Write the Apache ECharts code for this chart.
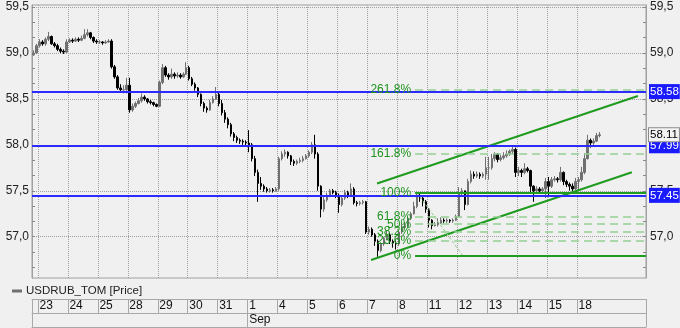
<!DOCTYPE html>
<html>
<head>
<meta charset="utf-8">
<script src="https://cdn.jsdelivr.net/npm/echarts@6/dist/echarts.min.js"></script>
<style>
html,body{margin:0;padding:0;background:#f0f0f0;}
#chart{width:680px;height:328px;}
</style>
</head>
<body>
<div id="chart"></div>
<script>
// ---- data ----
const seriesName = 'USDRUB_TOM [Price]';
const days = ['23','24','25','28','29','30','31','1','4','5','6','7','8','11','12','13','14','15','18'];
const monthLabel = 'Sep';
const monthStartDay = '1';
const leadBars = 2;        // bars before the first labelled day
const barsPerDay = 10;
const trailingSlots = 13;  // empty space on the right
const firstOpen = 58.98;
const closes = [
  59.00, 59.08,
  59.12, 59.10, 59.15, 59.18, 59.10, 59.08, 59.04, 59.02, 59.01, 59.12, // 23
  59.14, 59.13, 59.15, 59.14, 59.16, 59.20, 59.22, 59.17, 59.13, 59.12, // 24
  59.12, 59.11, 59.12, 59.13, 58.85, 58.74, 58.62, 58.60, 58.60, 58.65, // 25
  58.38, 58.42, 58.45, 58.48, 58.52, 58.50, 58.47, 58.46, 58.44, 58.42, // 28
  58.68, 58.84, 58.76, 58.74, 58.77, 58.75, 58.76, 58.74, 58.77, 58.84, // 29
  58.72, 58.66, 58.62, 58.55, 58.45, 58.40, 58.38, 58.46, 58.50, 58.55, // 30
  58.45, 58.35, 58.28, 58.22, 58.12, 58.08, 58.05, 58.04, 58.03, 58.02, // 31
  58.00, 57.85, 57.70, 57.58, 57.55, 57.52, 57.50, 57.51, 57.50, 57.52, // 1
  57.85, 57.90, 57.92, 57.88, 57.82, 57.80, 57.82, 57.83, 57.85, 57.88, // 4
  57.92, 58.00, 57.90, 57.55, 57.30, 57.40, 57.45, 57.50, 57.48, 57.45, // 5
  57.35, 57.42, 57.48, 57.45, 57.52, 57.37, 57.36, 57.37, 57.38, 57.05, // 6
  57.08, 57.02, 56.95, 56.85, 56.92, 56.98, 57.02, 56.95, 56.93, 56.92, // 7
  57.05, 57.10, 57.12, 57.20, 57.25, 57.33, 57.45, 57.42, 57.38, 57.30, // 8
  57.18, 57.12, 57.13, 57.15, 57.18, 57.17, 57.18, 57.17, 57.18, 57.22, // 11
  57.48, 57.50, 57.35, 57.60, 57.68, 57.66, 57.68, 57.66, 57.68, 57.75, // 12
  57.75, 57.85, 57.90, 57.84, 57.86, 57.88, 57.90, 57.93, 57.95, 57.70, // 13
  57.72, 57.70, 57.74, 57.72, 57.55, 57.50, 57.52, 57.50, 57.52, 57.60, // 14
  57.55, 57.62, 57.63, 57.62, 57.70, 57.60, 57.57, 57.55, 57.52, 57.60, // 15
  57.62, 57.70, 57.85, 58.05, 58.02, 58.04, 58.10, 58.11              // 18
];
const highs = [
  59.03, 59.10,
  59.15, 59.14, 59.17, 59.23, 59.19, 59.12, 59.10, 59.06, 59.04, 59.15,
  59.16, 59.16, 59.17, 59.17, 59.19, 59.26, 59.26, 59.23, 59.18, 59.15,
  59.14, 59.13, 59.14, 59.15, 59.15, 58.87, 58.76, 58.66, 58.65, 58.73,
  58.73, 58.45, 58.47, 58.51, 58.56, 58.54, 58.51, 58.49, 58.47, 58.45,
  58.70, 58.88, 58.86, 58.78, 58.83, 58.79, 58.79, 58.78, 58.79, 58.90,
  58.86, 58.74, 58.68, 58.63, 58.56, 58.47, 58.42, 58.49, 58.53, 58.63,
  58.58, 58.49, 58.38, 58.30, 58.24, 58.14, 58.10, 58.07, 58.06, 58.05,
  58.16, 58.02, 57.88, 57.73, 57.65, 57.57, 57.54, 57.53, 57.53, 57.54,
  57.87, 57.93, 57.95, 57.93, 57.89, 57.84, 57.84, 57.86, 57.88, 57.90,
  57.94, 58.03, 58.11, 57.92, 57.56, 57.43, 57.48, 57.52, 57.52, 57.50,
  57.47, 57.45, 57.51, 57.50, 57.58, 57.54, 57.39, 57.39, 57.40, 57.39,
  57.11, 57.10, 57.04, 56.97, 56.94, 57.00, 57.07, 57.04, 56.97, 56.96,
  57.07, 57.15, 57.16, 57.22, 57.27, 57.38, 57.49, 57.47, 57.44, 57.40,
  57.31, 57.19, 57.16, 57.20, 57.21, 57.20, 57.20, 57.19, 57.20, 57.24,
  57.54, 57.53, 57.50, 57.63, 57.72, 57.71, 57.71, 57.70, 57.70, 57.87,
  57.87, 57.90, 57.92, 57.91, 57.89, 57.92, 57.94, 57.95, 57.98, 57.97,
  57.76, 57.74, 57.80, 57.76, 57.73, 57.56, 57.55, 57.54, 57.54, 57.64,
  57.65, 57.65, 57.66, 57.65, 57.76, 57.71, 57.62, 57.59, 57.58, 57.64,
  57.65, 57.76, 57.91, 58.11, 58.07, 58.07, 58.13, 58.14
];
const lows = [
  58.97, 58.99,
  59.06, 59.08, 59.08, 59.13, 59.09, 59.06, 59.02, 59.00, 58.99, 59.00,
  59.11, 59.11, 59.12, 59.12, 59.13, 59.15, 59.18, 59.15, 59.11, 59.10,
  59.10, 59.09, 59.10, 59.11, 58.83, 58.72, 58.60, 58.57, 58.56, 58.56,
  58.35, 58.36, 58.40, 58.44, 58.46, 58.48, 58.45, 58.44, 58.42, 58.41,
  58.41, 58.66, 58.74, 58.71, 58.72, 58.72, 58.73, 58.72, 58.73, 58.76,
  58.70, 58.64, 58.59, 58.52, 58.42, 58.36, 58.35, 58.37, 58.45, 58.49,
  58.42, 58.32, 58.24, 58.18, 58.09, 58.04, 58.02, 58.01, 58.00, 57.99,
  57.92, 57.82, 57.66, 57.38, 57.51, 57.49, 57.48, 57.48, 57.48, 57.49,
  57.50, 57.83, 57.87, 57.85, 57.78, 57.77, 57.78, 57.80, 57.81, 57.84,
  57.86, 57.90, 57.85, 57.50, 57.21, 57.27, 57.38, 57.43, 57.46, 57.42,
  57.26, 57.33, 57.40, 57.42, 57.43, 57.35, 57.33, 57.34, 57.35, 57.03,
  57.02, 57.00, 56.90, 56.78, 56.83, 56.90, 56.96, 56.92, 56.88, 56.86,
  56.90, 57.03, 57.08, 57.11, 57.18, 57.24, 57.31, 57.38, 57.33, 57.26,
  57.10, 57.08, 57.11, 57.11, 57.14, 57.15, 57.15, 57.15, 57.15, 57.17,
  57.21, 57.44, 57.29, 57.34, 57.58, 57.63, 57.64, 57.63, 57.64, 57.62,
  57.62, 57.73, 57.82, 57.81, 57.82, 57.84, 57.86, 57.88, 57.90, 57.65,
  57.66, 57.65, 57.68, 57.70, 57.48, 57.38, 57.48, 57.48, 57.48, 57.42,
  57.43, 57.53, 57.60, 57.59, 57.60, 57.56, 57.54, 57.50, 57.49, 57.51,
  57.51, 57.60, 57.68, 57.84, 57.97, 58.00, 58.03, 58.08
];
const levelLines = [58.58, 57.99, 57.45];
const lastPrice = 58.11;
const fibLow = 56.79, fibHigh = 57.481;
const fibLevels = [0, 23.6, 38.2, 50, 61.8, 100, 161.8, 261.8];
const fibStartX = 127.9, fibEndX = 205;             // in bar slots
const fibAnchor = [[128.5, 57.481], [143.9, 56.79]];
const channelUpper = [[115.2, 57.579], [202.3, 58.532]];
const channelLower = [[113.2, 56.746], [200.3, 57.701]];
const yTickLabels = [57.0, 57.5, 58.0, 58.5, 59.0, 59.5];
const yMin = 56.55, yMax = 59.523;

// ---- build ----
const N = leadBars + days.length * barsPerDay + trailingSlots;
const cats = [];
for (let i = 0; i < N; i++) cats.push('b' + i);
const dayAt = {};
days.forEach((d, k) => { dayAt[leadBars + k * barsPerDay] = d; });
const monthIdx = leadBars + days.indexOf(monthStartDay) * barsPerDay;
const candles = closes.map((c, i) => [i === 0 ? firstOpen : closes[i - 1], c, lows[i], highs[i]]);
const minorTicks = [];
for (let k = 0; k <= 24; k++) { const v = 56.5 + k / 6; if (v >= yMin && v <= yMax) minorTicks.push(+v.toFixed(4)); }
const FONT = 'Liberation Sans, Arial, sans-serif';
const gridGrey = '#a0a0a0';
const tableGrey = '#a8a8a8';
const fmtY = v => v.toFixed(1).replace('.', ',');

const fibMarks = fibLevels.map(l => {
  const v = fibLow + (l / 100) * (fibHigh - fibLow);
  const solid = (l === 0 || l === 100);
  return [
    { coord: [fibStartX, v],
      lineStyle: solid ? { color: '#1f9b1f', width: 2, type: 'solid' } : { color: '#93cf93', width: 1.5, type: [8, 5] },
      label: { show: true, position: 'start', formatter: l + '%', color: '#1f931f', fontSize: 12, fontFamily: FONT, distance: 4 } },
    { coord: [fibEndX, v] }
  ];
});

const yAxisBase = (pos, showLabel, margin) => ({
  type: 'value', position: pos, min: yMin, max: yMax, scale: true,
  axisLine: { show: true, lineStyle: { color: gridGrey } },
  axisTick: { show: true, inside: true, length: 3, customValues: minorTicks, lineStyle: { color: '#888' } },
  axisLabel: { show: showLabel, customValues: yTickLabels, formatter: fmtY, color: '#222', fontSize: 12, fontFamily: FONT, margin: margin },
  splitLine: { show: false }
});

const labelAxis = (offset, intervalFn, formatterFn) => ({
  type: 'category', data: cats, position: 'bottom', offset: offset, boundaryGap: true,
  axisLine: { show: true, lineStyle: { color: tableGrey } },
  axisTick: { show: true, length: 14, interval: intervalFn, lineStyle: { color: tableGrey } },
  axisLabel: { show: true, interval: intervalFn, formatter: formatterFn, align: 'left', margin: 1, color: '#111', fontSize: 12, fontFamily: FONT },
  splitLine: { show: false }
});

const tagLabel = (v, bg, fg, extra) => Object.assign({
  show: true, position: 'end', formatter: v.toFixed(2), backgroundColor: bg, color: fg,
  padding: [2, 1, 1, 1], fontSize: 11.5, fontFamily: FONT, distance: 3
}, extra || {});

const option = {
  animation: false,
  backgroundColor: '#f0f0f0',
  textStyle: { fontFamily: FONT },
  grid: { left: 32, right: 34, top: 5, bottom: 50, show: true, borderColor: gridGrey, borderWidth: 1, backgroundColor: '#f0f0f0' },
  legend: {
    left: 12, top: 285, itemWidth: 8, itemHeight: 1, padding: 0,
    textStyle: { fontSize: 11.5, color: '#222', fontFamily: FONT },
    data: [{ name: seriesName, icon: 'rect', itemStyle: { color: '#333' } }]
  },
  xAxis: [
    { type: 'category', data: cats, boundaryGap: true, position: 'bottom',
      axisLine: { show: false }, axisTick: { show: false }, axisLabel: { show: false },
      splitLine: { show: true, interval: (i) => dayAt[i] !== undefined, lineStyle: { color: gridGrey, type: 'dotted' } } },
    labelAxis(21, (i) => i === 0 || dayAt[i] !== undefined, (v, i) => dayAt[i] || ''),
    labelAxis(35, (i) => i === 0 || i === monthIdx, (v, i) => i === monthIdx ? monthLabel : ''),
    { type: 'category', data: cats, position: 'bottom', offset: 49,
      axisLine: { show: true, lineStyle: { color: tableGrey } }, axisTick: { show: false }, axisLabel: { show: false } },
    { type: 'value', min: 0, max: N, show: false }
  ],
  yAxis: [
    yAxisBase('left', true, 3),
    yAxisBase('right', true, 4),
    { type: 'value', position: 'left', min: yMin, max: yMax,
      axisLine: { show: false }, axisTick: { show: false, customValues: yTickLabels },
      axisLabel: { show: false, customValues: yTickLabels },
      splitLine: { show: true, lineStyle: { color: gridGrey, type: 'dotted' } } }
  ],
  series: [
    {
      name: seriesName, type: 'candlestick', xAxisIndex: 0, yAxisIndex: 0,
      data: candles, barWidth: 2,
      itemStyle: { color: '#707070', color0: '#000000', borderColor: '#707070', borderColor0: '#000000', borderWidth: 1 },
      markLine: {
        silent: true, symbol: ['none', 'none'], animation: false,
        data: levelLines.map(v => ({
          yAxis: v,
          lineStyle: { color: '#2b2bff', width: 2, type: 'solid' },
          label: tagLabel(v, '#1a1aff', '#ffffff')
        })).concat([{
          yAxis: lastPrice,
          lineStyle: { color: 'rgba(0,0,0,0)', width: 0 },
          label: tagLabel(lastPrice, '#f4f4f4', '#000000', { borderColor: '#8a8a8a', borderWidth: 1, padding: [1, 1, 0, 1] })
        }])
      }
    },
    {
      name: 'channelUpper', type: 'line', xAxisIndex: 4, yAxisIndex: 0, data: channelUpper,
      symbol: 'none', lineStyle: { color: '#1f9b1f', width: 2 }, z: 3,
      markLine: { silent: true, symbol: ['none', 'none'], animation: false, data: fibMarks }
    },
    {
      name: 'channelLower', type: 'line', xAxisIndex: 4, yAxisIndex: 0, data: channelLower,
      symbol: 'none', lineStyle: { color: '#1f9b1f', width: 2 }, z: 3
    },
    {
      name: 'fibAnchor', type: 'line', xAxisIndex: 4, yAxisIndex: 0, data: fibAnchor,
      symbol: 'none', lineStyle: { color: '#8cc98c', width: 1, type: [3, 2] }, z: 3
    }
  ]
};
const chart = echarts.init(document.getElementById('chart'), null, { renderer: 'canvas' });
chart.setOption(option);
</script>
</body>
</html>
